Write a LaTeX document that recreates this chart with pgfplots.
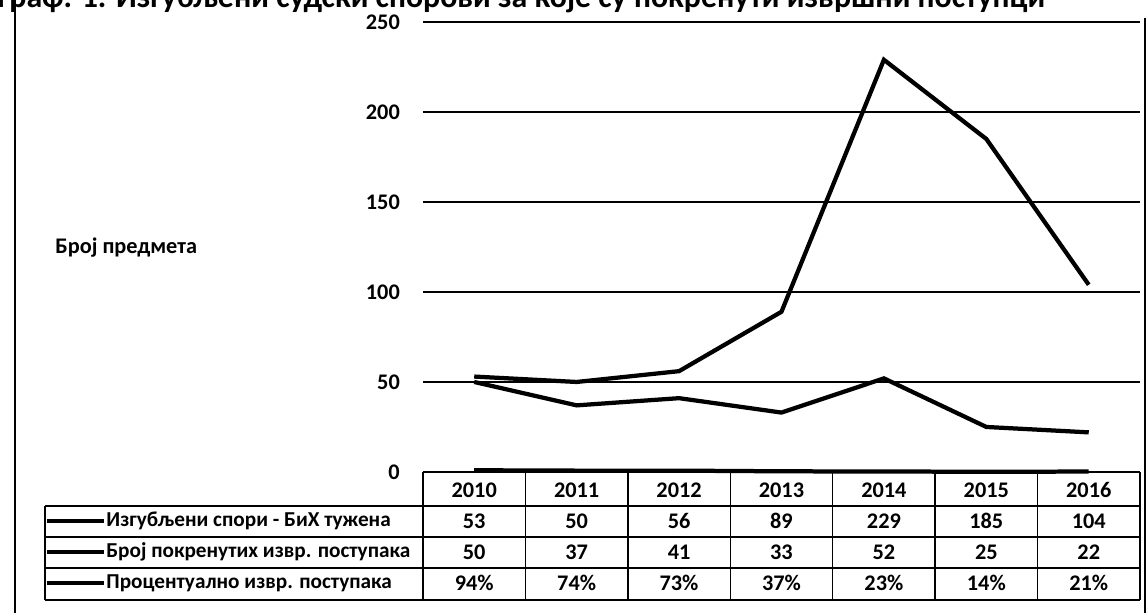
\documentclass[border=0pt]{standalone}
\usepackage{fontspec}
\setmainfont{Carlito}
\usepackage{pgfplots}
\pgfplotsset{compat=1.18}
\begin{document}
\begin{tikzpicture}
\useasboundingbox (0,0) rectangle (19,10.145);
\begin{axis}[
  at={(7.001cm,2.3336cm)}, anchor=south west,
  width=11.866cm, height=7.4475cm, scale only axis,
  xmin=-0.5, xmax=6.5, ymin=0, ymax=250,
  ytick={0,50,100,150,200,250}, xtick=\empty,
  ymajorgrids, grid style={black, line width=0.7pt},
  axis line style={draw=none},
  major tick length=0pt,
  clip=false,
  tick label style={font=\fontsize{10.5}{12}\selectfont\bfseries},
  yticklabel style={xshift=-0.26cm},
  /pgf/number format/assume math mode=true,
]
\addplot[black, line width=2pt] coordinates {(0,53)(1,50)(2,56)(3,89)(4,229)(5,185)(6,104)};
\addplot[black, line width=2pt] coordinates {(0,50)(1,37)(2,41)(3,33)(4,52)(5,25)(6,22)};
\addplot[black, line width=2pt] coordinates {(0,0.94)(1,0.74)(2,0.73)(3,0.37)(4,0.23)(5,0.14)(6,0.21)};
% title (cut by the top edge)
\node[overlay, anchor=base west, font=\fontsize{15}{17}\selectfont\bfseries, inner sep=0pt] at (axis cs:-4.66,258.3) {Граф. 1. Изгубљени судски спорови за које су покренути извршни поступци};
% frame
\draw[overlay, black, line width=0.9pt] (axis cs:-4.483,262) -- (axis cs:-4.483,-80);
\draw[overlay, black, line width=0.9pt] (axis cs:6.549,252) -- (axis cs:6.549,-80);
% y label
\node[anchor=west, font=\fontsize{10.5}{12}\selectfont\bfseries, inner sep=0pt] at (axis cs:-4.093,124.4) {Број предмета};
% data table grid
\pgfplotsinvokeforeach{-0.5,0.5,1.5,2.5,3.5,4.5,5.5,6.5}{
  \draw[black, line width=0.7pt] (axis cs:#1,0) -- (axis cs:#1,-71.1);
}
\draw[black, line width=0.7pt] (axis cs:-4.19,-18.9) -- (axis cs:-4.19,-71.1);
\pgfplotsinvokeforeach{-18.9,-36.1,-53.3,-71.1}{
  \draw[black, line width=0.7pt] (axis cs:-4.19,#1) -- (axis cs:6.5,#1);
}
% table text
\begin{scope}[every node/.style={font=\fontsize{10.5}{12}\selectfont\bfseries, inner sep=0pt}]
\node at (axis cs:0,-10) {2010}; \node at (axis cs:1,-10) {2011}; \node at (axis cs:2,-10) {2012};
\node at (axis cs:3,-10) {2013}; \node at (axis cs:4,-10) {2014}; \node at (axis cs:5,-10) {2015};
\node at (axis cs:6,-10) {2016};
\node at (axis cs:0,-27.2) {53}; \node at (axis cs:1,-27.2) {50}; \node at (axis cs:2,-27.2) {56};
\node at (axis cs:3,-27.2) {89}; \node at (axis cs:4,-27.2) {229}; \node at (axis cs:5,-27.2) {185};
\node at (axis cs:6,-27.2) {104};
\node at (axis cs:0,-44.4) {50}; \node at (axis cs:1,-44.4) {37}; \node at (axis cs:2,-44.4) {41};
\node at (axis cs:3,-44.4) {33}; \node at (axis cs:4,-44.4) {52}; \node at (axis cs:5,-44.4) {25};
\node at (axis cs:6,-44.4) {22};
\node at (axis cs:0,-61.7) {94\%}; \node at (axis cs:1,-61.7) {74\%}; \node at (axis cs:2,-61.7) {73\%};
\node at (axis cs:3,-61.7) {37\%}; \node at (axis cs:4,-61.7) {23\%}; \node at (axis cs:5,-61.7) {14\%};
\node at (axis cs:6,-61.7) {21\%};
% legend keys
\draw[black, line width=2pt] (axis cs:-4.17,-27.2) -- (axis cs:-3.61,-27.2);
\draw[black, line width=2pt] (axis cs:-4.17,-44.4) -- (axis cs:-3.61,-44.4);
\draw[black, line width=2pt] (axis cs:-4.17,-61.7) -- (axis cs:-3.61,-61.7);
\end{scope}
\begin{scope}[every node/.style={font=\fontsize{10}{12}\selectfont\bfseries, inner sep=0pt}]
\node[anchor=west] at (axis cs:-3.595,-27.2) {Изгубљени спори - БиХ тужена};
\node[anchor=west] at (axis cs:-3.595,-44.4) {Број покренутих извр. поступака};
\node[anchor=west] at (axis cs:-3.595,-61.7) {Процентуално извр. поступака};
\end{scope}
\end{axis}
\end{tikzpicture}
\end{document}
